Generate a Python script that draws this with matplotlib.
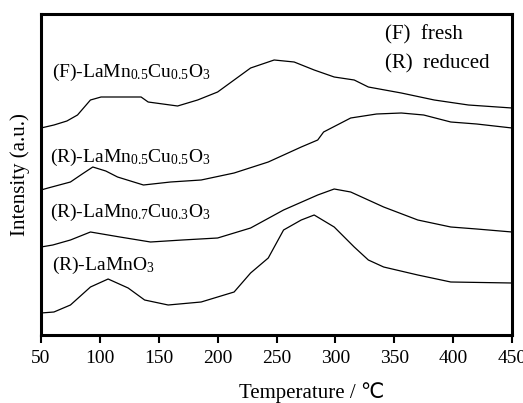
import matplotlib
matplotlib.use("Agg")
import matplotlib.pyplot as plt

plt.rcParams['font.family'] = ['Liberation Serif', 'DejaVu Sans']
plt.rcParams['mathtext.fontset'] = 'custom'
plt.rcParams['mathtext.rm'] = 'Liberation Serif'
plt.rcParams['mathtext.default'] = 'regular'

# TPR curves (intensity in arbitrary units, stacked)
t_f05 = [50, 61, 72, 81, 92, 101, 120, 135, 141, 166, 183, 200, 214, 228, 248, 265, 282, 299, 316, 328, 356, 384, 413, 450]
i_f05 = [207, 210, 214, 220, 235, 238, 238, 238, 233, 229, 235, 243, 255, 267, 275, 273, 265, 258, 255, 248, 242, 235, 230, 227]

t_r05 = [50, 56, 75, 85, 94, 105, 115, 137, 160, 186, 214, 243, 271, 285, 290, 313, 335, 356, 375, 398, 420, 450]
i_r05 = [145, 147, 153, 161, 168, 164, 158, 150, 153, 155, 162, 173, 188, 195, 203, 217, 221, 222, 220, 213, 211, 207]

t_r07 = [50, 60, 75, 92, 117, 143, 170, 200, 228, 256, 285, 299, 313, 341, 370, 398, 420, 450]
i_r07 = [88, 90, 95, 103, 98, 93, 95, 97, 107, 125, 140, 146, 143, 128, 115, 108, 106, 103]

t_mn = [50, 61, 75, 92, 107, 124, 138, 158, 186, 214, 228, 243, 256, 271, 282, 299, 316, 328, 341, 370, 398, 450]
i_mn = [22, 23, 30, 48, 56, 47, 35, 30, 33, 43, 62, 77, 105, 115, 120, 108, 88, 75, 68, 60, 53, 52]

xticks = [50, 100, 150, 200, 250, 300, 350, 400, 450]

fig = plt.figure(figsize=(5.23, 4.03), dpi=100)
ax = fig.add_axes([41 / 523, 1 - 335 / 403, 471 / 523, 321 / 403])

for t, i in [(t_f05, i_f05), (t_r05, i_r05), (t_r07, i_r07), (t_mn, i_mn)]:
    ax.plot(t, i, color='black', lw=0.9)

ax.set_xlim(50, 450)
ax.set_ylim(0, 321)
ax.set_xticks(xticks)
ax.set_yticks([])
ax.tick_params(axis='x', direction='out', length=6, width=1.5, labelsize=14, pad=5)
for s in ax.spines.values():
    s.set_linewidth(2.2)

ax.text(59, 258, r'(F)-LaMn$_{0.5}$Cu$_{0.5}$O$_3$', fontsize=14, va='baseline')
ax.text(58, 173, r'(R)-LaMn$_{0.5}$Cu$_{0.5}$O$_3$', fontsize=14, va='baseline')
ax.text(58, 118, r'(R)-LaMn$_{0.7}$Cu$_{0.3}$O$_3$', fontsize=14, va='baseline')
ax.text(59, 65, r'(R)-LaMnO$_3$', fontsize=14, va='baseline')
ax.text(342, 296, '(F)  fresh', fontsize=15, va='baseline')
ax.text(342, 267, '(R)  reduced', fontsize=15, va='baseline')

fig.text(312 / 523, 1 - 398 / 403, 'Temperature / ℃', fontsize=15, ha='center', va='baseline')
fig.text(20 / 523, 1 - 175 / 403, 'Intensity (a.u.)', fontsize=15, rotation=90, ha='center', va='center')

fig.savefig('out.png', dpi=100)
